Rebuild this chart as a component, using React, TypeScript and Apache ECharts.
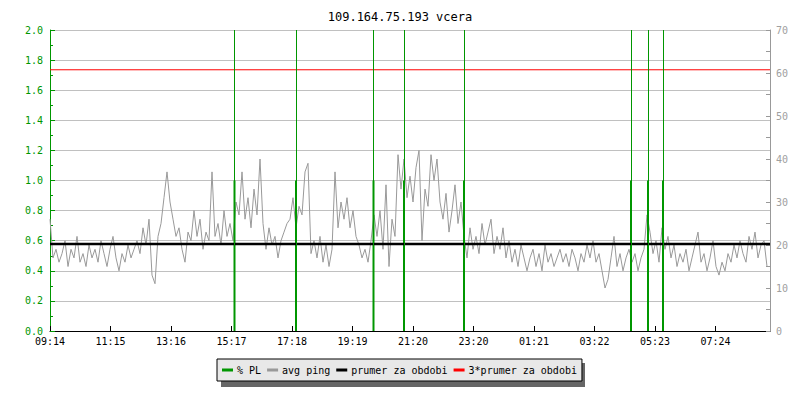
import React, { useEffect, useRef } from "react";
import * as echarts from "echarts";

// time axis: minutes since 09:14, one sample every 6 minutes
const sampleStepMin = 6;
const tickIntervalMin = 121;
const tickLabels = ["09:14", "11:15", "13:16", "15:17", "17:18", "19:19", "21:20", "23:20", "01:21", "03:22", "05:23", "07:24"];

// avg ping [ms], right axis
const ping1 = [26, 17, 19, 16, 18, 21, 15, 19, 17, 22, 16, 18, 15, 20, 17, 19, 16, 21, 18, 15, 19, 22, 17, 14, 18, 16, 20, 17, 19, 21, 18, 24, 20, 26, 13, 11, 22, 25, 31, 37];
const ping2 = [30, 26, 22, 24, 19, 16, 23, 21, 28, 22, 26, 19, 23, 21, 37, 22, 25, 20, 28, 22, 25, 21, 30, 27, 37, 26, 31, 24, 33, 27, 40, 25, 19, 24, 20, 22, 17, 21, 23, 25];
const ping3 = [26, 31, 24, 29, 27, 37, 39, 18, 21, 17, 22, 16, 20, 15, 19, 37, 24, 30, 26, 31, 24, 28, 22, 20, 17, 19, 16, 21, 27, 22, 28, 19, 34, 15, 26, 22, 41, 33, 40, 31];
const ping4 = [36, 30, 38, 42, 21, 33, 29, 41, 35, 40, 30, 26, 32, 23, 28, 34, 25, 30, 22, 17, 24, 19, 22, 18, 25, 20, 23, 26, 18, 22, 19, 24, 17, 21, 16, 19, 15, 20, 17, 14];
const ping5 = [17, 19, 15, 18, 14, 20, 16, 18, 15, 17, 19, 16, 18, 15, 19, 17, 14, 18, 16, 20, 17, 21, 16, 18, 14, 10, 12, 17, 22, 15, 18, 14, 17, 19, 16, 18, 14, 17, 19, 27];
const ping6 = [23, 18, 21, 16, 24, 19, 22, 17, 20, 15, 18, 16, 19, 14, 17, 20, 23, 16, 18, 14, 17, 21, 15, 13, 16, 14, 18, 16, 20, 17, 21, 18, 16, 22, 19, 23, 17, 20, 21, 15];
const pingValues = [...ping1, ...ping2, ...ping3, ...ping4, ...ping5, ...ping6];

// packet loss events (minutes since start) and their % PL value (left axis)
const plTimes = [369, 492, 647, 708, 828, 1162, 1196, 1226];
const plValues = [1.0, 1.0, 1.0, 1.0, 1.0, 1.0, 1.0, 1.0];

const meanPing = 20.25;
const spanMin = 1440;

const GREEN = "#009600";
const FONT = "DejaVu Sans Mono";

export default function App() {
  const ref = useRef<HTMLDivElement>(null);
  useEffect(() => {
    if (!ref.current) return;
    const chart = echarts.init(ref.current, null, { renderer: "svg" });
    const pingData = pingValues.map((v, i) => [i * sampleStepMin, v]);
    const plData = plTimes.map((t, i) => [t, plValues[i]]);
    chart.setOption({
      animation: false,
      backgroundColor: "#ffffff",
      textStyle: { fontFamily: FONT },
      title: {
        text: "109.164.75.193 vcera",
        left: "center",
        top: 6,
        textStyle: { fontFamily: FONT, fontSize: 12, fontWeight: "normal", color: "#000" },
      },
      grid: { left: 50, right: 30, top: 30, bottom: 69, containLabel: false, outerBoundsMode: "none" },
      graphic: [
        { type: "rect", z: 1, shape: { x: 221, y: 363, width: 364, height: 24 }, style: { fill: "#666666" } },
      ],
      legend: {
        left: 217,
        top: 359,
        z: 5,
        padding: [6, 5, 6, 5],
        itemGap: 6,
        itemWidth: 11,
        itemHeight: 3,
        backgroundColor: "#e8e8e8",
        borderColor: "#000",
        borderWidth: 1,
        borderRadius: 0,
        icon: "rect",
        textStyle: { fontFamily: FONT, fontSize: 10, color: "#000", padding: [0, 0, 0, -1] },
        data: ["% PL", "avg ping", "prumer za obdobi", "3*prumer za obdobi"],
      },
      xAxis: {
        type: "value",
        min: 0,
        max: spanMin,
        interval: tickIntervalMin,
        axisLine: { lineStyle: { color: "#000", width: 1 } },
        axisTick: { inside: true, length: 5, lineStyle: { color: "#000" } },
        splitLine: { show: false },
        axisLabel: {
          color: "#000",
          fontFamily: FONT,
          fontSize: 10,
          margin: 5,
          showMaxLabel: false,
          formatter: (v: number) => {
            const k = v / tickIntervalMin;
            return Math.abs(k - Math.round(k)) < 1e-6 ? tickLabels[Math.round(k)] ?? "" : "";
          },
        },
      },
      yAxis: [
        {
          type: "value",
          min: 0,
          max: 2,
          interval: 0.2,
          axisLine: { show: true, lineStyle: { color: GREEN, width: 1 } },
          axisTick: { show: true, inside: true, length: 5, lineStyle: { color: GREEN } },
          minorTick: { show: true, splitNumber: 2, length: 3, lineStyle: { color: GREEN } },
          splitLine: { show: true, lineStyle: { color: "#c0c0c0", width: 1 } },
          axisLabel: { color: GREEN, fontFamily: FONT, fontSize: 10, margin: 7, formatter: (v: number) => v.toFixed(1) },
        },
        {
          type: "value",
          min: 0,
          max: 70,
          interval: 10,
          position: "right",
          axisLine: { show: true, lineStyle: { color: "#999999", width: 1 } },
          axisTick: { show: true, inside: true, length: 4, lineStyle: { color: "#999999" } },
          minorTick: { show: true, splitNumber: 2, length: 4, lineStyle: { color: "#999999" } },
          splitLine: { show: false },
          axisLabel: { color: "#a0a0a0", fontFamily: FONT, fontSize: 10, margin: 6 },
        },
      ],
      series: [
        {
          name: "avg ping",
          type: "line",
          yAxisIndex: 1,
          data: pingData,
          symbol: "none",
          z: 1,
          color: "#999999",
          lineStyle: { color: "#999999", width: 1 },
        },
        {
          name: "3*prumer za obdobi",
          type: "line",
          yAxisIndex: 1,
          data: [[0, meanPing * 3], [spanMin, meanPing * 3]],
          symbol: "none",
          z: 2,
          color: "#ff0000",
          lineStyle: { color: "#ff0000", width: 1 },
        },
        {
          name: "% PL",
          type: "bar",
          yAxisIndex: 0,
          data: plData,
          barWidth: 2,
          z: 3,
          color: GREEN,
          itemStyle: { color: GREEN },
          markLine: {
            silent: true,
            symbol: "none",
            label: { show: false },
            lineStyle: { color: GREEN, width: 1, type: "solid" },
            data: plTimes.map((t) => ({ xAxis: t })),
          },
        },
        {
          name: "prumer za obdobi",
          type: "line",
          yAxisIndex: 1,
          data: [[0, meanPing], [spanMin, meanPing]],
          symbol: "none",
          z: 4,
          color: "#000000",
          lineStyle: { color: "#000000", width: 2.5 },
        },
      ],
    });
    return () => chart.dispose();
  }, []);
  return <div ref={ref} style={{ position: "fixed", left: 0, top: 0, width: 800, height: 400 }} />;
}
